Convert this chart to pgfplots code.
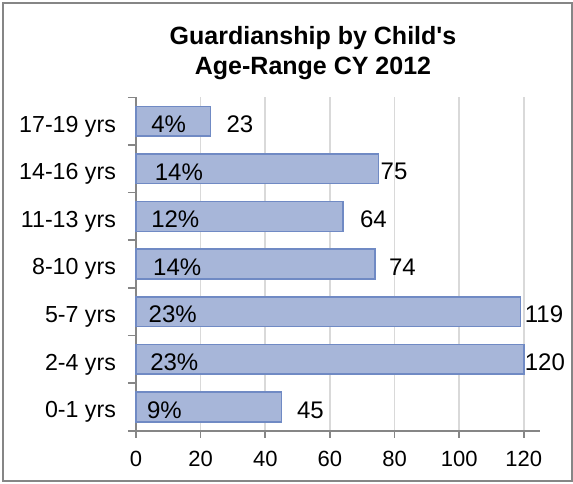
\documentclass[border=0pt]{standalone}
\usepackage{fontspec}
\setmainfont{Liberation Sans}
\usepackage{pgfplots}
\pgfplotsset{compat=1.18}
\definecolor{barfill}{RGB}{167,182,217}
\definecolor{barborder}{RGB}{112,138,196}
\definecolor{gridgray}{RGB}{217,217,217}
\definecolor{axisgray}{RGB}{134,134,134}
\definecolor{framegray}{RGB}{134,134,134}
\begin{document}
\begin{tikzpicture}
\path[use as bounding box] (-68pt,-26.15pt) rectangle (218.5pt,215.35pt);
\draw[framegray, line width=0.8pt] (-66.5pt,-25.2pt) rectangle (218pt,213.9pt);
\node[anchor=base, font=\fontsize{12.5}{15}\selectfont\bfseries] at (88.5pt,192.9pt) {Guardianship by Child\textquotesingle s};
\node[anchor=base, font=\fontsize{12.5}{15}\selectfont\bfseries] at (88.5pt,177.9pt) {Age-Range CY 2012};
\begin{axis}[
  at={(0,0)}, anchor=south west,
  scale only axis, width=202pt, height=166.7pt,
  xmin=0, xmax=125, ymin=-0.5, ymax=6.5,
  axis x line*=bottom, axis y line*=left,
  axis line style={draw=axisgray, line width=1pt, -},
  tick align=outside,
  xtick={0,20,...,120},
  xmajorgrids, grid style={draw=gridgray, line width=0.8pt},
  major tick length=3.5pt, minor tick length=4pt,
  tick style={draw=axisgray, line width=0.8pt},
  ytick={0,...,6},
  yticklabels={0-1 yrs,2-4 yrs,5-7 yrs,8-10 yrs,11-13 yrs,14-16 yrs,17-19 yrs},
  minor ytick={-0.5,0.5,...,6.5},
  major y tick style={draw=none},
  xticklabel style={font=\fontsize{11}{13}\selectfont, yshift=-3pt},
  yticklabel style={font=\fontsize{11.6}{13}\selectfont, xshift=-3pt, yshift=-2.6pt},
  /pgf/number format/assume math mode=true,
  clip=false,
]
\addplot[xbar, fill=barfill, draw=barborder, line width=0.75pt, bar width=0.625]
  coordinates {(45,0) (120,1) (119,2) (74,3) (64,4) (75,5) (23,6)};
\begin{scope}[every node/.style={anchor=west, inner sep=0pt, font=\fontsize{12}{14}\selectfont, yshift=-1.5pt}]
\node at (axis cs:3.3,0) {9\%};
\node at (axis cs:4.3,1) {23\%};
\node at (axis cs:3.8,2) {23\%};
\node at (axis cs:5.2,3) {14\%};
\node at (axis cs:4.6,4) {12\%};
\node at (axis cs:5.7,5) {14\%};
\node at (axis cs:4.6,6) {4\%};
\node at (axis cs:49.7,0) {45};
\node at (axis cs:120.2,1) {120};
\node at (axis cs:120.2,2) {119};
\node at (axis cs:78.2,3) {74};
\node at (axis cs:69.2,4) {64};
\node at (axis cs:75.6,5) {75};
\node at (axis cs:27.9,6) {23};
\end{scope}
\end{axis}
\end{tikzpicture}
\end{document}
